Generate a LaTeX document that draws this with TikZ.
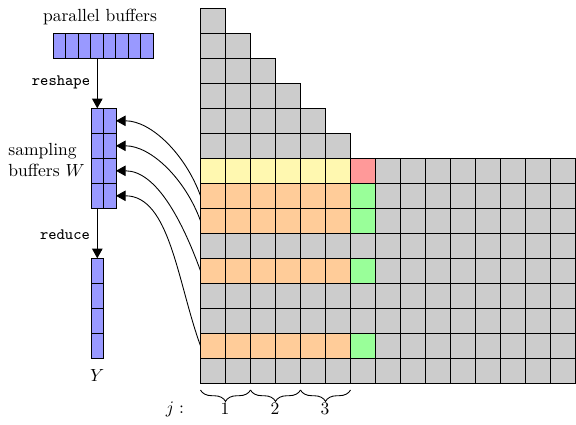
\documentclass[tikz,border=0pt]{standalone}
\usetikzlibrary{arrows.meta,decorations.pathreplacing}
\definecolor{cgray}{HTML}{CCCCCC}
\definecolor{cyel}{HTML}{FFF8B0}
\definecolor{corange}{HTML}{FFCC99}
\definecolor{cred}{HTML}{FF9999}
\definecolor{cgreen}{HTML}{99FF99}
\definecolor{cblue}{HTML}{9999FF}
\begin{document}
\begin{tikzpicture}[x=0.02cm,y=-0.02cm,
  cell/.style={draw=black,line width=0.5pt},
  ar/.style={-{Triangle[length=5.5pt,width=6pt]},line width=0.5pt},
  curv/.style={ar,out=110,in=0,in looseness=0.8},
  ttlab/.style={font=\small\ttfamily,inner sep=1pt},
  brc/.style={decorate,decoration={brace,mirror,amplitude=6.5pt},line width=0.5pt}]
\useasboundingbox (0,0) rectangle (576,424);
% ---- grid ----
\begin{scope}
\clip (0,0) rectangle (576,424);
\foreach \r in {0,...,5}{
  \foreach \c in {0,...,\r}{
    \filldraw[cell,fill=cgray] (200.5+25*\c,8.3+25*\r) rectangle ++(25,25);
  }
}
\foreach \r in {6,...,14}{
  \foreach \c in {0,...,15}{
    \filldraw[cell,fill=cgray] (200.5+25*\c,8.3+25*\r) rectangle ++(25,25);
  }
}
\foreach \c in {0,...,5}{
  \filldraw[cell,fill=cyel] (200.5+25*\c,158.3) rectangle ++(25,25);
}
\filldraw[cell,fill=cred] (350.5,158.3) rectangle ++(25,25);
\foreach \r in {7,8,10,13}{
  \foreach \c in {0,...,5}{
    \filldraw[cell,fill=corange] (200.5+25*\c,8.3+25*\r) rectangle ++(25,25);
  }
  \filldraw[cell,fill=cgreen] (350.5,8.3+25*\r) rectangle ++(25,25);
}
\end{scope}
% ---- parallel buffers ----
\foreach \k in {0,...,7}{
  \filldraw[cell,fill=cblue] (53.3+12.5*\k,33.3) rectangle ++(12.5,25);
}
% ---- sampling buffers W ----
\foreach \i in {0,...,3}{
  \foreach \k in {0,1}{
    \filldraw[cell,fill=cblue] (91+12.5*\k,108.3+25*\i) rectangle ++(12.5,25);
  }
}
% ---- Y ----
\foreach \i in {0,...,3}{
  \filldraw[cell,fill=cblue] (91,258.3+25*\i) rectangle ++(12.5,25);
}
% ---- labels ----
\node (ptitle) at (100,17) {parallel buffers};
\node[align=left,anchor=west,inner sep=0pt] (wlabel) at (8,160) {sampling\\buffers $W$};
\node (ylabel) at (97.3,375) {$Y$};
\node[ttlab] (reshape) at (61,82) {reshape};
\node[ttlab] (reduce) at (65,235) {reduce};
% ---- coordinates ----
\coordinate (pbs) at (97.3,58.3);
\coordinate (wn) at (97.3,108.3);
\coordinate (ws) at (97.3,208.3);
\coordinate (yn) at (97.3,258.3);
\coordinate (w0) at (116,120.8);
\coordinate (w1) at (116,145.8);
\coordinate (w2) at (116,170.8);
\coordinate (w3) at (116,195.8);
\coordinate (r7) at (200.5,195.8);
\coordinate (r8) at (200.5,220.8);
\coordinate (r10) at (200.5,270.8);
\coordinate (r13) at (200.5,345.8);
% ---- connectors ----
\draw[ar] (pbs) -- (wn);
\draw[ar] (ws) -- (yn);
\draw[curv] (r7) to (w0);
\draw[curv] (r8) to (w1);
\draw[curv] (r10) to (w2);
\draw[curv] (r13) to (w3);
% ---- braces ----
\coordinate (b0) at (200.5,390);
\coordinate (b1) at (250.5,390);
\coordinate (b2) at (300.5,390);
\coordinate (b3) at (350.5,390);
\draw[brc] (b0) -- (b1);
\draw[brc] (b1) -- (b2);
\draw[brc] (b2) -- (b3);
\node (j1) at (225,409) {1};
\node (j2) at (275,409) {2};
\node (j3) at (325,409) {3};
\node (jlab) at (175,409) {$j:$};
\end{tikzpicture}
\end{document}
